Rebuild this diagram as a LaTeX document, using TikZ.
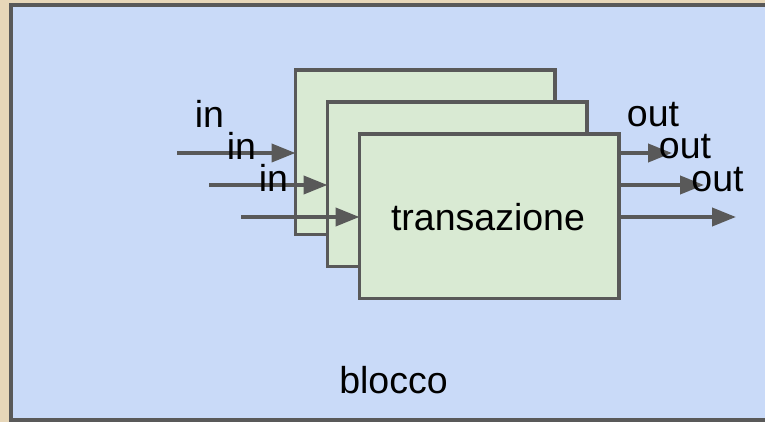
\documentclass[tikz,border=0pt]{standalone}
\usepackage{fontspec}
\setmainfont{Liberation Sans}
\usetikzlibrary{arrows.meta}
\definecolor{bgbeige}{HTML}{E7D7B9}
\definecolor{blkblue}{HTML}{C9DAF8}
\definecolor{boxgreen}{HTML}{D9EAD3}
\definecolor{linegray}{HTML}{595959}
\tikzset{
  txbox/.style={draw=linegray, fill=boxgreen, line width=3.6pt, minimum width=259.5pt, minimum height=164.5pt, inner sep=0pt, outer sep=0pt, anchor=north west},
  flow/.style={draw=linegray, line width=4pt, -{Triangle[length=24pt,width=18pt]}},
  lbl/.style={font=\fontsize{37.5}{44}\selectfont, anchor=base, inner sep=0pt, text=black}
}
\begin{document}
\begin{tikzpicture}[x=1pt,y=-1pt]
\useasboundingbox (0,0) rectangle (765,422);
\clip (0,0) rectangle (765,422);
\fill[bgbeige] (0,0) rectangle (765,422);
\draw[draw=linegray, fill=blkblue, line width=4.5pt] (11,5) rectangle (780,420);
% box 1
\node[txbox] (b1) at (295.5,70) {};
\coordinate (i1) at (177,153);
\draw[flow] (i1) -- (b1.west |- i1);
\coordinate (o1) at (672,153);
\draw[flow] (b1.east |- o1) -- (o1);
% box 2
\node[txbox] (b2) at (327.5,102) {};
\coordinate (i2) at (209,185);
\draw[flow] (i2) -- (b2.west |- i2);
\coordinate (o2) at (704,185);
\draw[flow] (b2.east |- o2) -- (o2);
% box 3
\node[txbox] (b3) at (359.5,134) {};
\coordinate (i3) at (241,217);
\draw[flow] (i3) -- (b3.west |- i3);
\coordinate (o3) at (736,217);
\draw[flow] (b3.east |- o3) -- (o3);
% labels
\node[lbl] (tin1) at (209.5,128) {in};
\node[lbl] (tin2) at (241.5,160) {in};
\node[lbl] (tin3) at (273.5,192) {in};
\node[lbl] (tout1) at (653,127) {out};
\node[lbl] (tout2) at (685,159) {out};
\node[lbl] (tout3) at (717.5,191) {out};
\node[lbl] (ttr) at (488,230) {transazione};
\node[lbl] (tblk) at (393.5,393) {blocco};
\end{tikzpicture}
\end{document}
